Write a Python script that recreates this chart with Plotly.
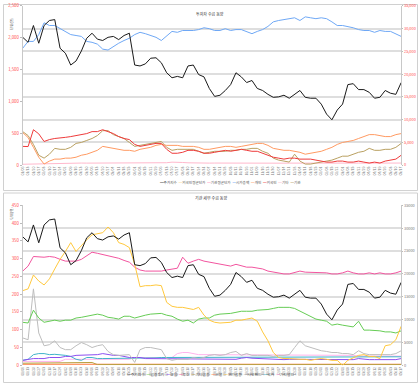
import plotly.graph_objects as go

W, H = 420, 386

dates = ["01/06","01/13","01/20","01/27","02/03","02/10","02/17","02/24","03/02","03/09",
         "03/16","03/23","03/30","04/06","04/13","04/20","04/27","05/04","05/11","05/18",
         "05/25","06/01","06/08","06/15","06/22","06/29","07/06","07/13","07/20","07/27",
         "08/03","08/10","08/17","08/24","08/31","09/07","09/14","09/21","09/28","10/05",
         "10/12","10/19","10/26","11/02","11/09","11/16","11/23","11/30","12/07","12/14",
         "12/21","12/28","01/04","01/11","01/18","01/25","02/01","02/08","02/15","02/22",
         "03/01","03/08","03/15","03/22","03/29","04/05","04/12","04/19","04/26","05/03",
         "05/10","05/17"]

# ---------- top chart (투자자 수급) ----------
index_price = [28100, 27000, 30700, 26800, 30700, 31800, 32000, 25700, 24600, 22000,
               22900, 25100, 27900, 29000, 27700, 27400, 28100, 28300, 27600, 28500,
               29000, 22000, 21800, 22250, 23500, 23600, 22500, 20300, 19200, 19500,
               19200, 21800, 22000, 19900, 19400, 16850, 15100, 15350, 16400, 17700,
               20300, 19400, 18150, 18600, 16850, 16400, 15550, 14900, 15000, 15350,
               14700, 15550, 16400, 14900, 14700, 14700, 13400, 11200, 9950, 12100,
               13400, 17700, 17900, 16600, 16600, 16000, 14700, 14900, 16400, 15800,
               15550, 18150]
top_blue = [25700, 27200, 27200, 28700, 31300, 30700, 30700, 30000, 29400, 28700,
            28500, 28300, 27200, 27000, 26600, 25500, 25300, 26100, 26800, 27400,
            27900, 28700, 29200, 28900, 28500, 28100, 27400, 28300, 29400, 29200,
            29600, 29600, 29600, 29800, 30200, 30000, 29600, 29600, 30000, 29600,
            29800, 29800, 29400, 28900, 29400, 29800, 30500, 31500, 31800, 32000,
            32200, 32400, 31800, 32600, 32400, 32200, 32400, 32200, 31500, 30700,
            30700, 30500, 30200, 29800, 29600, 29600, 29200, 29600, 29400, 29400,
            28900, 28300]
top_orange = [509, 432, 278, 123, 15, 62, 93, 93, 108, 108,
              123, 154, 170, 200, 231, 293, 278, 262, 247, 231,
              231, 216, 247, 262, 278, 309, 324, 309, 309, 309,
              293, 293, 293, 278, 247, 247, 262, 278, 293, 293,
              278, 293, 309, 324, 340, 340, 309, 262, 247, 231,
              231, 216, 200, 170, 185, 200, 216, 247, 278, 324,
              355, 370, 386, 417, 447, 478, 478, 463, 447, 447,
              478, 494]
top_red = [293, 290, 555, 490, 370, 400, 417, 432, 435, 447,
           463, 478, 494, 525, 525, 555, 525, 494, 447, 417,
           400, 324, 293, 309, 324, 340, 340, 247, 185, 185,
           200, 231, 231, 216, 185, 185, 200, 216, 231, 216,
           231, 247, 231, 216, 216, 185, 154, 123, 108, 93,
           108, 108, 93, 93, 93, 77, 62, 46, 46, 62,
           62, 46, 46, 62, 46, 31, 46, 31, 62, 77,
           93, 154]
top_lpink = [12, 14, 15, 15, 20, 28, 30, 31, 30, 29,
             30, 31, 30, 30, 32, 31, 30, 29, 30, 31,
             30, 30, 29, 30, 31, 30, 32, 36, 45, 46,
             40, 35, 31, 30, 29, 30, 31, 30, 30, 29,
             30, 31, 30, 30, 29, 30, 31, 30, 30, 29,
             30, 31, 30, 30, 29, 30, 31, 30, 30, 29,
             30, 31, 30, 30, 29, 30, 31, 30, 30, 29,
             30, 31]
top_olive = [525, 463, 324, 154, 108, 170, 262, 247, 247, 278,
             340, 355, 386, 417, 463, 540, 540, 478, 447, 417,
             355, 293, 309, 324, 340, 355, 370, 278, 231, 247,
             247, 247, 247, 216, 185, 200, 216, 216, 216, 231,
             231, 247, 247, 262, 262, 216, 185, 108, 77, 62,
             46, 170, 62, 15, 15, 31, 46, 62, 77, 108,
             139, 139, 170, 200, 216, 262, 231, 231, 247, 247,
             278, 340]

top_legend = [("주가지수", "#1a1a1a"), ("외국인평균단가", "#ffe08a"), ("기관평균단가", "#ff8cc0"),
              ("시가총액", "#6fa8f5"), ("개인", "#ff9a62"), ("외국인", "#ee3b3b"),
              ("기타", "#ffb8cc"), ("기관", "#b9a061")]

# ---------- bottom chart (기관 세부) ----------
bot_green = [121, 119, 155, 133, 121, 124, 127, 124, 127, 127,
             133, 135, 138, 141, 144, 141, 135, 133, 130, 138,
             138, 133, 138, 141, 144, 144, 146, 141, 138, 130,
             124, 127, 119, 130, 133, 133, 141, 144, 144, 146,
             149, 152, 152, 152, 155, 155, 157, 160, 163, 163,
             163, 160, 152, 146, 138, 130, 127, 124, 113, 116,
             113, 110, 108, 124, 99, 99, 99, 97, 94, 94,
             91, 97]
bot_purple = [14, 17, 19, 19, 19, 22, 22, 22, 25, 25,
              28, 28, 30, 30, 30, 33, 30, 28, 28, 25,
              22, 22, 22, 19, 19, 19, 19, 17, 17, 19,
              19, 19, 19, 17, 17, 17, 17, 17, 17, 17,
              17, 20, 22, 20, 19, 19, 17, 17, 16, 16,
              17, 17, 16, 16, 16, 17, 17, 16, 16, 16,
              17, 17, 16, 19, 17, 16, 16, 16, 17, 17,
              16, 19]
bot_magenta = [265, 279, 306, 304, 304, 306, 304, 298, 293, 293,
               293, 298, 309, 318, 315, 312, 309, 306, 301, 295,
               290, 276, 268, 265, 265, 265, 265, 268, 271, 273,
               304, 287, 293, 298, 293, 290, 287, 284, 282, 279,
               284, 279, 276, 276, 273, 271, 265, 262, 260, 257,
               257, 260, 265, 262, 262, 262, 260, 260, 257, 257,
               260, 265, 260, 257, 257, 260, 257, 260, 257, 257,
               260, 265]
bot_olive = [6, 6, 6, 8, 8, 8, 8, 8, 8, 8,
             8, 8, 8, 8, 2, 2, 2, 2, 2, 2,
             2, 2, 2, 2, 2, 2, 2, 2, 2, 2,
             2, 2, 2, 2, 2, 2, 2, 2, 2, 2,
             2, 2, 2, 2, 2, 2, 2, 2, 2, 2,
             2, 2, 2, 2, 2, 2, 2, 2, 2, 2,
             2, 2, 2, 2, 2, 2, 2, 2, 2, 2,
             2, 2]
bot_orange = [3, 3, 3, 3, 4, 4, 4, 3, 3, 3,
              3, 3, 4, 4, 4, 3, 3, 3, 3, 3,
              4, 4, 3, 3, 3, 3, 3, 3, 3, 4,
              4, 4, 3, 3, 3, 3, 3, 3, 3, 3,
              3, 4, 4, 3, 3, 3, 3, 3, 3, 3,
              3, 3, 3, 3, 3, 4, 4, 3, 3, 3,
              3, 3, 3, 3, 3, 3, 3, 4, 4, 3,
              3, 3]
bot_yellow = [210, 215, 254, 237, 226, 243, 271, 298, 320, 345,
              320, 337, 353, 367, 370, 373, 389, 373, 345, 340,
              331, 284, 221, 224, 224, 226, 224, 177, 166, 163,
              163, 160, 157, 163, 141, 127, 121, 119, 119, 121,
              127, 127, 130, 133, 124, 94, 69, 36, 22, 19,
              19, 17, 17, 17, 14, 17, 19, 17, 14, 14,
              0, 14, 22, 28, 30, 25, 25, 19, 55, 58,
              72, 110]
bot_gray = [77, 72, 215, 91, 55, 58, 69, 50, 44, 44,
            55, 64, 58, 50, 55, 58, 39, 30, 28, 28,
            30, 8, 44, 50, 50, 47, 44, 19, 14, 17,
            17, 17, 22, 19, 22, 28, 30, 28, 30, 36,
            39, 28, 33, 28, 28, 28, 28, 25, 28, 28,
            30, 50, 69, 55, 50, 44, 41, 39, 36, 36,
            33, 33, 30, 41, 33, 30, 30, 30, 30, 30,
            33, 41]
bot_teal = [14, 17, 30, 33, 33, 30, 31, 30, 28, 25,
            17, 14, 22, 22, 19, 19, 19, 20, 20, 19,
            19, 19, 20, 20, 21, 21, 22, 22, 22, 22,
            22, 23, 23, 23, 23, 23, 24, 24, 24, 24,
            24, 24, 24, 24, 24, 24, 24, 24, 24, 24,
            24, 24, 24, 24, 24, 24, 24, 24, 24, 24,
            24, 24, 24, 24, 24, 24, 24, 24, 24, 24,
            24, 24]
bot_lpink = [11, 11, 11, 11, 11, 11, 11, 11, 17, 17,
             17, 17, 17, 17, 17, 17, 17, 17, 17, 17,
             17, 22, 22, 22, 22, 22, 22, 22, 22, 33,
             36, 36, 33, 30, 30, 30, 30, 30, 30, 30,
             30, 30, 30, 30, 30, 30, 30, 30, 30, 30,
             30, 30, 28, 28, 28, 28, 28, 28, 28, 28,
             28, 28, 28, 26, 26, 26, 26, 26, 26, 26,
             26, 26]

bot_legend = [("주가지수", "#555555"), ("금융투자", "#66cc55"), ("보험", "#8c4ff0"),
              ("투신", "#f2559f"), ("기타금융", "#b8a040"), ("은행", "#ff7a3d"),
              ("연기금등", "#ffc83d"), ("사모펀드", "#bdbdbd"), ("국가", "#3fb3c9"),
              ("기타법인", "#ffb3ec")]

FONT = "Noto Sans CJK KR, Noto Sans, sans-serif"
RED = "#ff4a4a"


def px_y(p):
    return 1 - p / H


fig = go.Figure()

def add(vals, color, xa, ya, width=1):
    fig.add_trace(go.Scatter(x=dates, y=vals, mode="lines", xaxis=xa, yaxis=ya,
                             line=dict(color=color, width=width), showlegend=False,
                             hoverinfo="skip"))

# top
add(top_lpink, "#ffb8cc", "x", "y")
add(top_olive, "#b9a061", "x", "y")
add(top_orange, "#ff9a62", "x", "y")
add(top_red, "#ee3b3b", "x", "y")
add(top_blue, "#6fa8f5", "x", "y2")
add(index_price, "#1a1a1a", "x", "y2")

# bottom
add(bot_orange, "#ff7a3d", "x2", "y3")
add(bot_olive, "#b8a040", "x2", "y3")
add(bot_lpink, "#ffb3ec", "x2", "y3")
add(bot_teal, "#3fb3c9", "x2", "y3")
add(bot_purple, "#8c4ff0", "x2", "y3")
add(bot_gray, "#bdbdbd", "x2", "y3")
add(bot_green, "#66cc55", "x2", "y3")
add(bot_magenta, "#f2559f", "x2", "y3")
add(bot_yellow, "#ffc83d", "x2", "y3")
add(index_price, "#1a1a1a", "x2", "y4")

xdom = [20 / W, 403 / W]
top_dom = [px_y(164), px_y(2)]
bot_dom = [px_y(368), px_y(205)]

xcommon = dict(type="category", range=[0, len(dates) - 1], tickmode="array",
               tickvals=dates, ticktext=dates, tickangle=-90,
               tickfont=dict(size=3.4, color="#777777", family=FONT),
               showgrid=False, zeroline=False, showline=False, ticks="")

ycommon = dict(zeroline=False, showline=True, linecolor="#c8c8c8", linewidth=1,
               ticks="outside", tickcolor="#bbbbbb")

fig.update_layout(
    width=W, height=H, margin=dict(l=0, r=0, t=0, b=0, pad=0),
    paper_bgcolor="white", plot_bgcolor="white",
    font=dict(family=FONT, size=4.5, color="#444444"),
    xaxis=dict(domain=xdom, anchor="y", **xcommon),
    xaxis2=dict(domain=xdom, anchor="y3", **xcommon),
    yaxis=dict(domain=top_dom, range=[0, 2500], tickmode="array",
               tickvals=[0, 500, 1000, 1500, 2000, 2500],
               ticktext=["0", "500", "1,000", "1,500", "2,000", "2,500"],
               tickfont=dict(size=4.3, color=RED, family=FONT), showgrid=False,
               anchor="x", ticklen=2, **ycommon),
    yaxis2=dict(range=[0, 35000], dtick=5000, tickformat=",", side="right",
                overlaying="y", anchor="x", ticklen=1,
                tickfont=dict(size=3.9, color=RED, family=FONT),
                showgrid=True, gridcolor="#dedede", gridwidth=1.5, **ycommon),
    yaxis3=dict(domain=bot_dom, range=[0, 450], dtick=50, anchor="x2", ticklen=2,
                tickfont=dict(size=4.3, color=RED, family=FONT), showgrid=False,
                **ycommon),
    yaxis4=dict(range=[0, 35000], dtick=5000, tickformat="d", side="right",
                overlaying="y3", anchor="x2", ticklen=1,
                tickfont=dict(size=3.9, color="#777777", family=FONT),
                showgrid=True, gridcolor="#dedede", gridwidth=1.5, **ycommon),
)

shapes = [
    dict(type="rect", xref="paper", yref="paper", x0=0.5 / W, x1=419.5 / W,
         y0=px_y(190), y1=px_y(0.5), line=dict(color="#d0d0d0", width=1), layer="below"),
    dict(type="rect", xref="paper", yref="paper", x0=0.5 / W, x1=419.5 / W,
         y0=px_y(385.5), y1=px_y(192.5), line=dict(color="#d0d0d0", width=1), layer="below"),
]
fig.update_layout(shapes=shapes)


def legend_text(items):
    parts = [f"<span style='color:{c}'>━</span>{n}" for n, c in items]
    return "\u2002".join(parts)


ann = [
    dict(text="투자자 수급 동향", x=209 / W, y=px_y(5), xref="paper", yref="paper",
         showarrow=False, font=dict(size=4, color="#333333", family=FONT)),
    dict(text="기관 세부 수급 동향", x=210 / W, y=px_y(198), xref="paper", yref="paper",
         showarrow=False, font=dict(size=4, color="#333333", family=FONT)),
    dict(text="단위(억)", x=4 / W, y=px_y(12), xref="paper", yref="paper", textangle=-90,
         showarrow=False, font=dict(size=3.6, color="#555555", family=FONT)),
    dict(text="단위(억)", x=4 / W, y=px_y(213), xref="paper", yref="paper", textangle=-90,
         showarrow=False, font=dict(size=3.6, color="#555555", family=FONT)),
    dict(text=legend_text(top_legend), x=230 / W, y=px_y(181.5), xref="paper", yref="paper",
         showarrow=False, font=dict(size=3.6, color="#555555", family=FONT)),
    dict(text=legend_text(bot_legend), x=210 / W, y=px_y(382), xref="paper", yref="paper",
         showarrow=False, font=dict(size=3.8, color="#555555", family=FONT)),
]
fig.update_layout(annotations=ann)

fig.write_html("out.html", config={"displayModeBar": False},
               post_script="document.body.style.margin='0';document.body.style.overflow='hidden';")
